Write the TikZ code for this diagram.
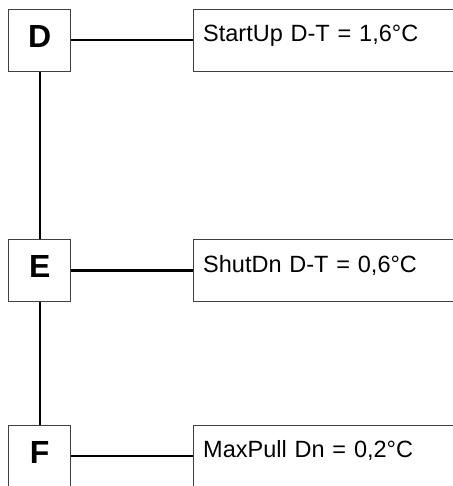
\documentclass[tikz,border=0pt]{standalone}
\usepackage{fontspec}
\setmainfont{Liberation Sans}
\begin{document}
\begin{tikzpicture}[x=1pt,y=1pt,
  letterbox/.style={draw=black!75, line width=1pt, minimum width=62pt, minimum height=62pt,
    inner sep=0pt, text height=24pt, text depth=10pt, font=\fontsize{32}{36}\selectfont\bfseries},
  infobox/.style={draw=black!75, line width=1pt, anchor=west, minimum height=62pt,
    inner ysep=0pt, inner xsep=10pt, text width=280pt, align=left,
    text height=15pt, text depth=12pt, font=\fontsize{23.5}{27}\selectfont},
  link/.style={line width=2.2pt, black}]
\useasboundingbox (0,0) rectangle (452,-486);
\node[letterbox] (D) at (39.7,-40.2) {D};
\node[letterbox] (E) at (39.7,-270.5) {E};
\node[letterbox] (F) at (39.7,-456.3) {F};
\node[infobox] (Dt) at (192.7,-40.2) {StartUp D-T = 1,6°C};
\node[infobox] (Et) at (192.7,-270.5) {ShutDn D-T = 0,6°C};
\node[infobox] (Ft) at (192.7,-456.3) {MaxPull Dn = 0,2°C};
\draw[link] (D.east) -- (Dt.west);
\draw[link] (E.east) -- (Et.west);
\draw[link] (F.east) -- (Ft.west);
\draw[link] (D.south) -- (E.north);
\draw[link] (E.south) -- (F.north);
\end{tikzpicture}
\end{document}
